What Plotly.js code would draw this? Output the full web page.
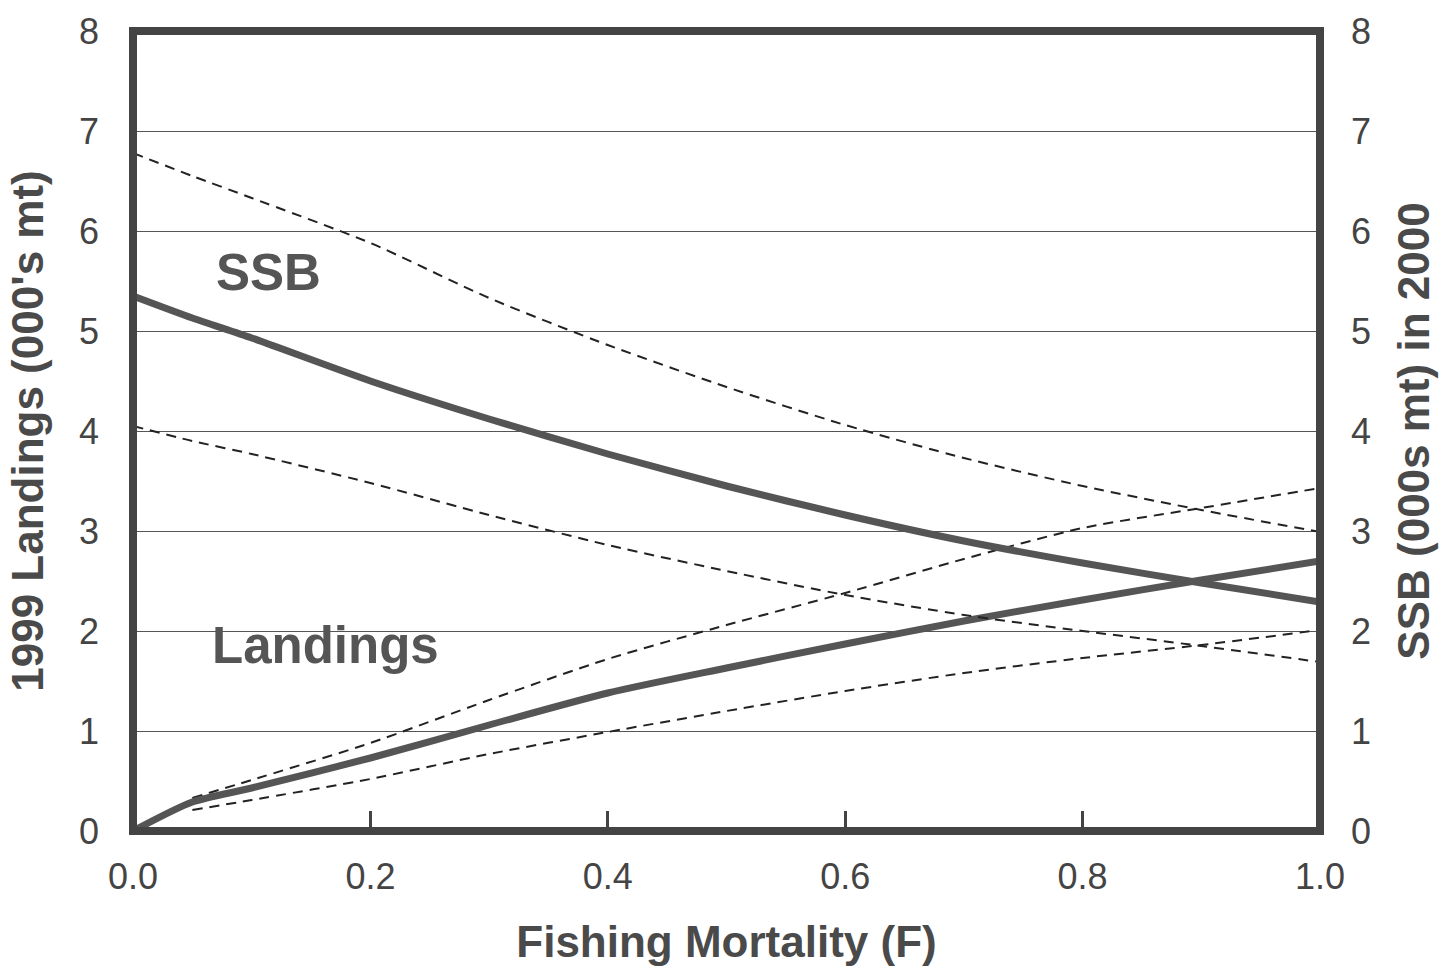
<!DOCTYPE html>
<html>
<head>
<meta charset="utf-8">
<script src="https://cdn.plot.ly/plotly-3.0.1.min.js"></script>
<style>html,body{margin:0;padding:0;background:#fff;}#chart{width:1453px;height:968px;}</style>
</head>
<body>
<div id="chart"></div>
<script>
// Fishing mortality values
const fishingMortality = [0, 0.05, 0.1, 0.2, 0.3, 0.4, 0.5, 0.6, 0.7, 0.8, 0.9, 1.0];
// SSB in 2000 (000s mt)
const ssbMid   = [5.35, 5.13, 4.93, 4.50, 4.12, 3.77, 3.45, 3.16, 2.90, 2.68, 2.48, 2.29];
const ssbHigh  = [6.78, 6.55, 6.33, 5.88, 5.33, 4.86, 4.44, 4.06, 3.73, 3.45, 3.21, 2.99];
const ssbLow   = [4.05, 3.90, 3.77, 3.48, 3.16, 2.86, 2.60, 2.36, 2.16, 2.00, 1.85, 1.69];
// 1999 Landings (000's mt)
const landMid  = [0, 0.29, 0.43, 0.73, 1.06, 1.38, 1.63, 1.87, 2.10, 2.31, 2.51, 2.70];
const landHigh = [null, 0.33, 0.51, 0.88, 1.31, 1.72, 2.06, 2.38, 2.72, 3.03, 3.23, 3.43];
const landLow  = [null, 0.21, 0.31, 0.52, 0.77, 0.99, 1.20, 1.40, 1.58, 1.73, 1.86, 2.01];
// tick labels
const xTickVals = [0, 0.2, 0.4, 0.6, 0.8, 1.0];
const xTickText = ["0.0", "0.2", "0.4", "0.6", "0.8", "1.0"];
const yTickVals = [0, 1, 2, 3, 4, 5, 6, 7, 8];

const solid = {color: '#555', width: 7, shape: 'spline', smoothing: 0.7};
const dashed = {color: '#222', width: 2, dash: '10px,7px', shape: 'spline', smoothing: 0.7};

const traces = [
  {x: fishingMortality, y: ssbHigh, mode: 'lines', line: dashed, yaxis: 'y2', name: 'SSB upper'},
  {x: fishingMortality, y: ssbLow, mode: 'lines', line: dashed, yaxis: 'y2', name: 'SSB lower'},
  {x: fishingMortality, y: landHigh, mode: 'lines', line: dashed, name: 'Landings upper'},
  {x: fishingMortality, y: landLow, mode: 'lines', line: dashed, name: 'Landings lower'},
  {x: fishingMortality, y: ssbMid, mode: 'lines', line: solid, yaxis: 'y2', name: 'SSB'},
  {x: fishingMortality, y: landMid, mode: 'lines', line: solid, name: 'Landings'}
];

const tickFont = {family: 'Liberation Sans, Arial, sans-serif', size: 36, color: '#444'};
const titleFont = {family: 'Liberation Sans, Arial, sans-serif', size: 44, color: '#4a4a4a', weight: 'bold'};

const layout = {
  width: 1453, height: 968,
  margin: {l: 133, r: 133, t: 31, b: 137},
  paper_bgcolor: '#fff', plot_bgcolor: '#fff',
  showlegend: false,
  xaxis: {
    range: [0, 1], tickvals: xTickVals, ticktext: xTickText,
    ticks: 'inside', ticklen: 20, tickwidth: 3, tickcolor: '#444',
    showgrid: false, zeroline: false, showline: false,
    tickfont: tickFont, ticklabelstandoff: 21,
    title: {text: 'Fishing Mortality (F)', font: titleFont, standoff: 30},
    automargin: false
  },
  yaxis: {
    range: [0, 8], tickvals: yTickVals,
    ticks: '', showgrid: true, gridcolor: '#555', gridwidth: 1,
    zeroline: false, showline: false,
    tickfont: tickFont, ticklabelstandoff: 33,
    title: {text: "1999 Landings (000's mt)", font: titleFont, standoff: 21},
    automargin: false
  },
  yaxis2: {
    range: [0, 8], tickvals: yTickVals, overlaying: 'y', side: 'right',
    ticks: '', showgrid: false, zeroline: false, showline: false,
    tickfont: tickFont, ticklabelstandoff: 30,
    title: {text: 'SSB (000s mt) in 2000', font: titleFont, standoff: 28},
    automargin: false
  },
  shapes: [
    {type: 'rect', xref: 'paper', yref: 'paper', x0: 0, x1: 1, y0: 0, y1: 1,
     line: {color: '#444', width: 8}, layer: 'above'}
  ],
  annotations: [
    {x: 0.114, y: 5.59, xref: 'x', yref: 'y', text: '<b>SSB</b>', showarrow: false,
     font: {family: 'Liberation Sans, Arial, sans-serif', size: 51, color: '#555'}},
    {x: 0.162, y: 1.86, xref: 'x', yref: 'y', text: '<b>Landings</b>', showarrow: false,
     font: {family: 'Liberation Sans, Arial, sans-serif', size: 51, color: '#555'}}
  ]
};

Plotly.newPlot('chart', traces, layout, {displayModeBar: false, staticPlot: true});
</script>
</body>
</html>
